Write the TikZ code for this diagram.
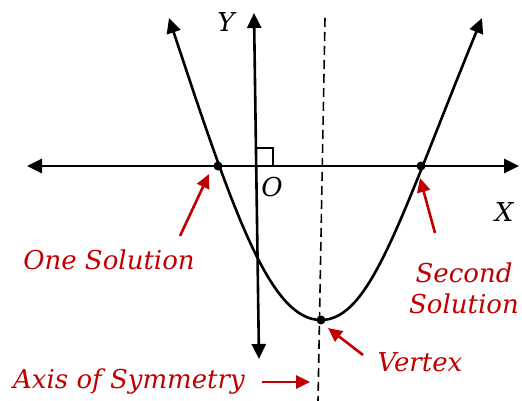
\documentclass[tikz,border=0pt]{standalone}
\usepackage{fontspec}
\setmainfont{DejaVu Serif}
\usetikzlibrary{arrows.meta}

\definecolor{notered}{RGB}{192,0,0}

\tikzset{
    axis/.style={line width=2.6pt, {Triangle[length=15pt,width=14pt]}-{Triangle[length=15pt,width=14pt]}},
    dot/.style={circle, fill, inner sep=0pt, minimum size=9pt},
    letter/.style={font=\itshape\fontsize{26}{31}\selectfont},
    note/.style={notered, align=center, font=\itshape\fontsize{26}{31}\selectfont},
    pointer/.style={notered, line width=2.6pt, -{Triangle[length=14pt,width=13pt]}},
}

\begin{document}
\begin{tikzpicture}[x=1pt, y=-1pt]

    \useasboundingbox (0,0) rectangle (522,401);

    % axes
    \coordinate (xleft) at (27,166);
    \coordinate (xright) at (519,166);
    \coordinate (ytop) at (254,13);
    \coordinate (ybottom) at (259,359);
    \draw[axis] (xleft) -- (xright);
    \draw[axis] (ytop) -- (ybottom);
    \draw[line width=1.8pt] (255.2,148) -- (273,148) -- (273,166);

    \node[letter] (ylabel) at (226,22) {Y};
    \node[letter] (olabel) at (272,187) {O};
    \node[letter] (xlabel) at (504,212) {X};

    % axis of symmetry
    \coordinate (symtop) at (325,18);
    \coordinate (symbottom) at (318,401);
    \draw[line width=1.6pt, dash pattern=on 9pt off 5pt] (symtop) -- (symbottom);

    % parabola
    \coordinate (armleft) at (169,18);
    \coordinate (armright) at (482,18);
    \node[dot] (vertex) at (321,320) {};
    \draw[axis] (armleft) .. controls (235,218) and (271,320) .. (vertex.center)
        .. controls (371,320) and (400,218) .. (armright);

    \foreach \name/\x in {rootone/218, roottwo/421}{
        \node[dot] (\name) at (\x,166) {};
    }

    % notes
    \node[note] (one) at (109,260) {One Solution};
    \node[note] (second) at (464,288) {Second\\Solution};
    \node[note] (vert) at (420,362) {Vertex};
    \node[note] (sym) at (129,382) {Axis of Symmetry};

    \foreach \name/\ax/\ay/\bx/\by in {%
        one/180/236/209/174,
        second/435/233/420/178,
        vert/363/355/328/328,
        sym/262/382/310/382%
    }{
        \coordinate (\name-tail) at (\ax,\ay);
        \coordinate (\name-tip) at (\bx,\by);
        \draw[pointer] (\name-tail) -- (\name-tip);
    }

\end{tikzpicture}
\end{document}
